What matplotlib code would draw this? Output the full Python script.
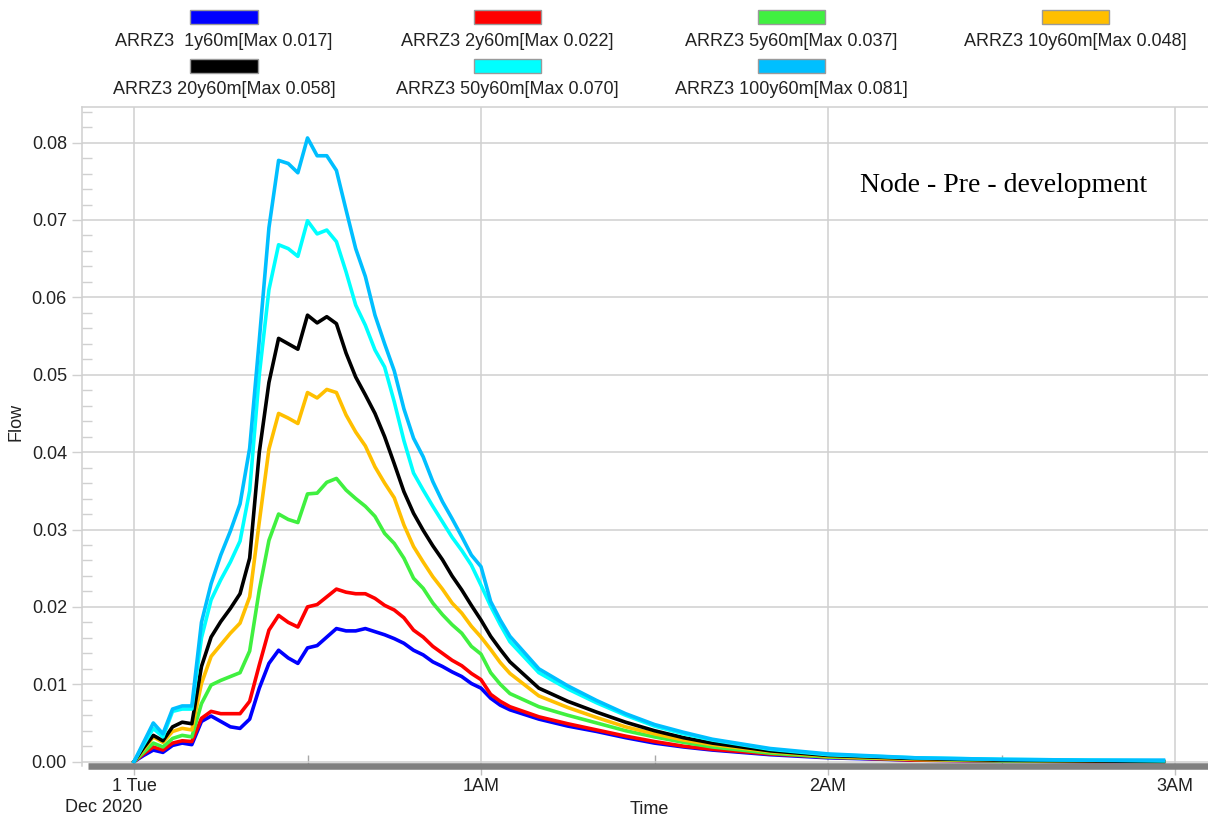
import numpy as np
import matplotlib.pyplot as plt
from matplotlib.patches import Rectangle

plt.rcParams['font.family'] = ['Liberation Sans', 'DejaVu Sans']

# model output every 100 s for the first 65 min, then sparser through the recession
STEP_MIN = 100 / 60
fine_minutes = np.arange(40) * STEP_MIN
tail_minutes = [70, 75, 80, 85, 90, 95, 100, 110, 120, 135, 150, 165, 178]
minutes = np.concatenate([fine_minutes, tail_minutes])

runs = ['ARRZ3  1y60m', 'ARRZ3 2y60m', 'ARRZ3 5y60m', 'ARRZ3 10y60m',
        'ARRZ3 20y60m', 'ARRZ3 50y60m', 'ARRZ3 100y60m']
colors = ['#0000ff', '#ff0000', '#40f040', '#ffbf00', '#000000', '#00ffff', '#00bfff']

flow_1y = [0.0, 0.0008, 0.0015, 0.0012, 0.0021, 0.0024, 0.0022, 0.0052, 0.0059, 0.0052,
           0.0045, 0.0043, 0.0055, 0.0095, 0.0127, 0.0144, 0.0134, 0.0127, 0.0147, 0.0150,
           0.0161, 0.0172, 0.0169, 0.0169, 0.0172, 0.0168, 0.0164, 0.0159, 0.0153, 0.0144,
           0.0138, 0.0129, 0.0123, 0.0116, 0.0110, 0.0101, 0.0095, 0.0082, 0.0073, 0.0067,
           0.0055, 0.0046, 0.0039, 0.0031, 0.0024, 0.0019, 0.0015, 0.0009, 0.0005, 0.0002,
           0.0001, 0.0, 0.0]
flow_2y = [0.0, 0.0010, 0.0019, 0.0015, 0.0024, 0.0027, 0.0026, 0.0056, 0.0065, 0.0062,
           0.0062, 0.0062, 0.0078, 0.0125, 0.0170, 0.0189, 0.0180, 0.0174, 0.0200, 0.0203,
           0.0213, 0.0223, 0.0219, 0.0217, 0.0217, 0.0211, 0.0202, 0.0196, 0.0186, 0.0170,
           0.0161, 0.0149, 0.0140, 0.0131, 0.0124, 0.0114, 0.0106, 0.0087, 0.0078, 0.0071,
           0.0058, 0.0049, 0.0041, 0.0033, 0.0026, 0.0020, 0.0016, 0.0010, 0.0006, 0.0002,
           0.0001, 0.0, 0.0]
flow_5y = [0.0, 0.0012, 0.0024, 0.0019, 0.0030, 0.0034, 0.0032, 0.0075, 0.0099, 0.0105,
           0.0110, 0.0115, 0.0143, 0.0222, 0.0286, 0.0320, 0.0313, 0.0309, 0.0346, 0.0347,
           0.0361, 0.0366, 0.0351, 0.0340, 0.0330, 0.0317, 0.0295, 0.0282, 0.0263, 0.0237,
           0.0224, 0.0205, 0.0190, 0.0177, 0.0166, 0.0149, 0.0139, 0.0115, 0.0100, 0.0088,
           0.0071, 0.0060, 0.0050, 0.0040, 0.0032, 0.0025, 0.0019, 0.0011, 0.0006, 0.0003,
           0.0001, 0.0001, 0.0]
flow_10y = [0.0, 0.0016, 0.0032, 0.0025, 0.0039, 0.0043, 0.0041, 0.0101, 0.0136, 0.0151,
            0.0166, 0.0179, 0.0213, 0.0310, 0.0404, 0.0450, 0.0444, 0.0437, 0.0477, 0.0470,
            0.0481, 0.0477, 0.0448, 0.0426, 0.0408, 0.0381, 0.0360, 0.0341, 0.0306, 0.0278,
            0.0258, 0.0239, 0.0223, 0.0205, 0.0192, 0.0175, 0.0161, 0.0145, 0.0128, 0.0114,
            0.0085, 0.0070, 0.0057, 0.0045, 0.0036, 0.0028, 0.0022, 0.0013, 0.0007, 0.0003,
            0.0002, 0.0001, 0.0]
flow_20y = [0.0, 0.0018, 0.0034, 0.0027, 0.0045, 0.0051, 0.0049, 0.0123, 0.0161, 0.0181,
            0.0198, 0.0217, 0.0263, 0.0400, 0.0490, 0.0547, 0.0540, 0.0533, 0.0577, 0.0567,
            0.0575, 0.0566, 0.0528, 0.0497, 0.0474, 0.0450, 0.0420, 0.0385, 0.0349, 0.0321,
            0.0299, 0.0279, 0.0261, 0.0240, 0.0222, 0.0202, 0.0183, 0.0162, 0.0145, 0.0129,
            0.0095, 0.0078, 0.0064, 0.0051, 0.0040, 0.0031, 0.0024, 0.0014, 0.0008, 0.0004,
            0.0002, 0.0001, 0.0]
flow_50y = [0.0, 0.0022, 0.0043, 0.0032, 0.0065, 0.0068, 0.0068, 0.0160, 0.0209, 0.0235,
            0.0258, 0.0285, 0.0350, 0.0500, 0.0610, 0.0668, 0.0663, 0.0653, 0.0699, 0.0682,
            0.0687, 0.0672, 0.0633, 0.0590, 0.0564, 0.0532, 0.0510, 0.0465, 0.0415, 0.0373,
            0.0351, 0.0330, 0.0310, 0.0290, 0.0273, 0.0254, 0.0228, 0.0201, 0.0177, 0.0155,
            0.0115, 0.0094, 0.0076, 0.0060, 0.0046, 0.0036, 0.0028, 0.0016, 0.0009, 0.0005,
            0.0003, 0.0002, 0.0001]
flow_100y = [0.0, 0.0025, 0.0050, 0.0036, 0.0068, 0.0072, 0.0072, 0.0180, 0.0230, 0.0267,
             0.0298, 0.0333, 0.0405, 0.0545, 0.0690, 0.0777, 0.0773, 0.0761, 0.0806, 0.0783,
             0.0783, 0.0764, 0.0713, 0.0663, 0.0627, 0.0577, 0.0540, 0.0505, 0.0456, 0.0418,
             0.0394, 0.0362, 0.0336, 0.0314, 0.0291, 0.0267, 0.0252, 0.0207, 0.0183, 0.0162,
             0.0120, 0.0098, 0.0079, 0.0062, 0.0048, 0.0038, 0.0029, 0.0017, 0.0010, 0.0005,
             0.0003, 0.0002, 0.0002]
flows = [flow_1y, flow_2y, flow_5y, flow_10y, flow_20y, flow_50y, flow_100y]

time_ticks = [0, 60, 120, 180]
time_labels = ['1 Tue', '1AM', '2AM', '3AM']

W, H = 1208, 823
GRID = '#d0d0d0'

fig = plt.figure(figsize=(W / 100, H / 100), dpi=100)
ax = fig.add_axes([82 / W, 1 - 766 / H, 1 - 82 / W, (766 - 107) / H])

for vals, color in zip(flows, colors):
    ax.plot(minutes, vals, color=color, lw=2.6, zorder=3)

ax.set_xlim(-8.99, 185.7)
ax.set_ylim(-0.00056, 0.0846)

ax.set_xticks(time_ticks)
ax.set_xticklabels(time_labels)
ax.set_xticks([30, 90, 150], minor=True)
ax.set_yticks(np.arange(0, 0.0801, 0.01))
ax.yaxis.set_major_formatter(plt.FormatStrFormatter('%.2f'))
ax.yaxis.set_minor_locator(plt.MultipleLocator(0.002))

ax.tick_params(axis='x', which='major', direction='out', length=6.5, width=1,
               color='#c0c0c0', pad=2, labelsize=13, labelcolor='#222222')
ax.tick_params(axis='x', which='minor', direction='in', length=8, width=1, color='#a8a8a8')
ax.tick_params(axis='y', which='major', direction='out', length=7.2, width=1,
               color=GRID, pad=3.6, labelsize=13, labelcolor='#222222')
ax.tick_params(axis='y', which='minor', direction='in', length=7.2, width=1, color=GRID)

ax.grid(True, which='major', color=GRID, lw=1.1)
ax.set_axisbelow(True)
for side in ['bottom', 'right']:
    ax.spines[side].set_visible(False)
for side in ['left', 'top']:
    ax.spines[side].set_color(GRID)
    ax.spines[side].set_linewidth(1.1)

# thick time bar along the bottom
ax.plot([6 / 1126, 1], [0, 0], transform=ax.transAxes, color='#808080', lw=4.7,
        solid_capstyle='butt', clip_on=False, zorder=5)

ax.text(0.818, 1 - (185 - 107) / (766 - 107), 'Node - Pre - development',
        transform=ax.transAxes, ha='center', va='center', fontsize=20,
        family='Liberation Serif')

fig.text(16 / W, 1 - 422 / H, 'Flow', rotation=90, ha='center', va='center',
         fontsize=13, color='#222222')
fig.text(649 / W, 1 - 810 / H, 'Time', ha='center', va='center', fontsize=13,
         color='#222222')
fig.text(104 / W, 1 - 808 / H, 'Dec 2020', ha='center', va='center', fontsize=13,
         color='#222222')

# legend: swatch above each label, four per row
for i, (run, vals, color) in enumerate(zip(runs, flows, colors)):
    row, col = divmod(i, 4)
    cx = 224 + 283.7 * col
    top = 10 + 48.5 * row
    fig.add_artist(Rectangle(((cx - 33.5) / W, 1 - (top + 14) / H), 67 / W, 14 / H,
                             transform=fig.transFigure, facecolor=color,
                             edgecolor='#9a9a9a', lw=1))
    fig.text(cx / W, 1 - (top + 31) / H, f'{run}[Max {max(vals):.3f}]',
             ha='center', va='center', fontsize=13, color='#222222')

fig.savefig('out.png', dpi=100)
